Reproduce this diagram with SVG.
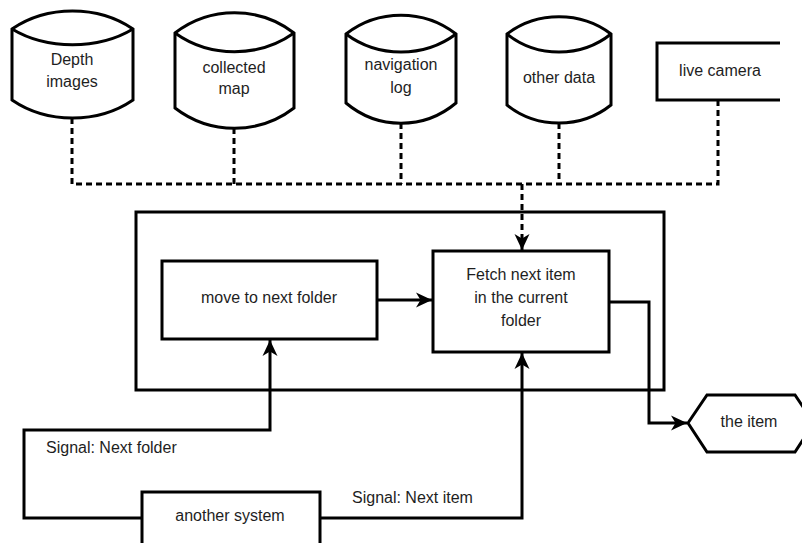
<svg xmlns="http://www.w3.org/2000/svg" width="802" height="543" viewBox="0 0 802 543">
  <style>
    .shape { fill: #ffffff; stroke: #000000; stroke-width: 3; stroke-linejoin: miter; }
    .open { fill: none; stroke: #000000; stroke-width: 3; }
    .edge { fill: none; stroke: #000000; stroke-width: 3; }
    .dash { fill: none; stroke: #000000; stroke-width: 3; stroke-dasharray: 6 4; }
    text { font-family: "Liberation Sans", Arial, sans-serif; font-size: 16px; fill: #1e1e1e; }
    .c { text-anchor: middle; }
  </style>
  <defs>
    <marker id="arrow" markerUnits="userSpaceOnUse" viewBox="-17 -8 18 16" refX="0" refY="0" markerWidth="18" markerHeight="16" orient="auto">
      <path d="M0,0 L-16,-7.5 L-11.5,0 L-16,7.5 Z" fill="#000000"/>
    </marker>
  </defs>

  <!-- outer container -->
  <g id="container">
    <rect class="shape" x="136" y="212" width="528" height="178"/>
  </g>

  <!-- data stores -->
  <g id="depth-images">
    <path class="shape" d="M12,29 C47,5 98,5 133,29 V100 C98,124 47,124 12,100 Z"/>
    <path class="open" d="M12,29 C47,50 98,50 133,29"/>
    <text class="c" x="72" y="65">Depth</text>
    <text class="c" x="72" y="87">images</text>
  </g>
  <g id="collected-map">
    <path class="shape" d="M175,33 C210,6 259,6 294,33 V108 C259,135 210,135 175,108 Z"/>
    <path class="open" d="M175,33 C210,58 259,58 294,33"/>
    <text class="c" x="234" y="73">collected</text>
    <text class="c" x="234" y="94">map</text>
  </g>
  <g id="navigation-log">
    <path class="shape" d="M346,34 C378,9 424,9 456,34 V103 C424,130 378,130 346,103 Z"/>
    <path class="open" d="M346,34 C378,58 424,58 456,34"/>
    <text class="c" x="401" y="70">navigation</text>
    <text class="c" x="401" y="93">log</text>
  </g>
  <g id="other-data">
    <path class="shape" d="M507,34 C537,11 581,11 611,34 V105 C581,129 537,129 507,105 Z"/>
    <path class="open" d="M507,34 C537,58 581,58 611,34"/>
    <text class="c" x="559" y="83">other data</text>
  </g>
  <g id="live-camera">
    <rect x="657" y="43" width="123" height="57" fill="#ffffff"/>
    <path class="open" d="M780,43 H657 V100 H780"/>
    <text class="c" x="720" y="76">live camera</text>
  </g>

  <!-- process steps -->
  <g id="move-next-folder">
    <rect class="shape" x="162" y="261" width="215" height="78"/>
    <text class="c" x="269" y="303">move to next folder</text>
  </g>
  <g id="fetch-next-item">
    <rect class="shape" x="433" y="251" width="176" height="101"/>
    <text class="c" x="521" y="280">Fetch next item</text>
    <text class="c" x="521" y="303">in the current</text>
    <text class="c" x="521" y="326">folder</text>
  </g>
  <g id="the-item">
    <polygon class="shape" points="688,423 707,395 795,395 814,423 795,452 707,452"/>
    <text class="c" x="749" y="427">the item</text>
  </g>
  <g id="another-system">
    <rect class="shape" x="142" y="492" width="178" height="70"/>
    <text class="c" x="230" y="521">another system</text>
  </g>

  <!-- connectors -->
  <g id="connectors">
    <path class="dash" d="M72,118 V184 H718 V100"/>
    <path class="dash" d="M234,128 V184"/>
    <path class="dash" d="M401,123 V184"/>
    <path class="dash" d="M559,123 V184"/>
    <path class="dash" d="M522,184 V250" marker-end="url(#arrow)"/>
    <path class="edge" d="M377,300 H432" marker-end="url(#arrow)"/>
    <path class="edge" d="M609,302 H649 V423 H687" marker-end="url(#arrow)"/>
    <path class="edge" d="M142,518 H24 V430 H270 V340" marker-end="url(#arrow)"/>
    <path class="edge" d="M320,518 H522 V353" marker-end="url(#arrow)"/>
    <text x="46" y="453">Signal: Next folder</text>
    <text x="352" y="503">Signal: Next item</text>
  </g>
</svg>
